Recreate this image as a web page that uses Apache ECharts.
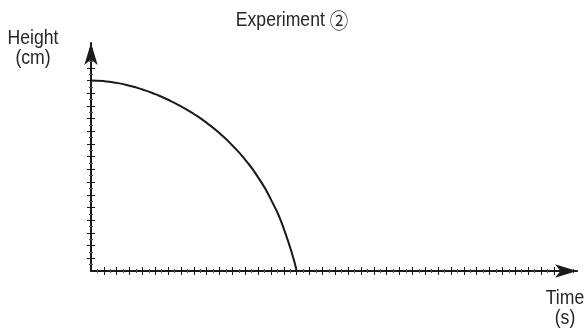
<!DOCTYPE html>
<html>
<head>
<meta charset="utf-8">
<script src="https://cdn.jsdelivr.net/npm/echarts@6/dist/echarts.min.js"></script>
<style>
  html, body { margin: 0; padding: 0; background: #ffffff; }
  #chart { width: 587px; height: 331px; }
</style>
</head>
<body>
<div id="chart"></div>
<script>
// Falling object: height (cm) against time (s)
const fallTime   = [0, 1, 2, 3, 4, 5, 6, 7, 8, 9, 10, 11, 12, 13, 14, 15, 16];
const fallHeight = [15, 14.95, 14.81, 14.59, 14.29, 13.92, 13.48, 12.96, 12.36,
                    11.66, 10.84, 9.88, 8.75, 7.37, 5.62, 3.32, 0];

// Tick marks along each axis (no labels are printed)
const timeTicks = [1, 2, 3, 4, 5, 6, 7, 8, 9, 10, 11, 12, 13, 14, 15, 16, 17, 18,
                   19, 20, 21, 22, 23, 24, 25, 26, 27, 28, 29, 30, 31, 32, 33, 34, 35, 36];
const heightTicks = [1, 2, 3, 4, 5, 6, 7, 8, 9, 10, 11, 12, 13, 14, 15, 16];

const titleWord = 'Experiment';
const titleMark = '②';
const yName = 'Height\n(cm)';
const xName = 'Time\n(s)';

const INK = '#1a1a1a';
const TEXT = '#262626';
const FONT = '"Liberation Sans", Arial, "DejaVu Sans", sans-serif';
const MARK_FONT = '"Noto Sans CJK JP", "Noto Sans CJK SC", "DejaVu Sans", sans-serif';

function tickAxis(ticks, inside, withLine) {
  return {
    type: 'value',
    min: 0,
    interval: 1,
    axisLine: {
      show: withLine,
      onZero: false,
      symbol: ['none', 'arrow'],
      symbolSize: [10, 22],
      lineStyle: { color: INK, width: 2 }
    },
    axisTick: {
      show: true,
      customValues: ticks,
      inside: inside,
      length: 4,
      lineStyle: { color: INK, width: 1 }
    },
    minorTick: {
      show: true,
      splitNumber: 2,
      length: 2,
      lineStyle: { color: '#555', width: 1 }
    },
    axisLabel: { show: false },
    splitLine: { show: false },
    minorSplitLine: { show: false }
  };
}

const xOuter = Object.assign(tickAxis(timeTicks, false, true), { position: 'bottom', max: 37.8 });
const xInner = Object.assign(tickAxis(timeTicks, true, false), { position: 'bottom', max: 37.8 });
const yOuter = Object.assign(tickAxis(heightTicks, false, true), { position: 'left', max: 17.95 });
const yInner = Object.assign(tickAxis(heightTicks, true, false), { position: 'left', max: 17.95 });

function label(text, x, y, extra) {
  return {
    type: 'text',
    x: x,
    y: y,
    scaleX: 0.88,
    style: Object.assign({
      text: text,
      align: 'center',
      verticalAlign: 'top',
      font: '20px ' + FONT,
      lineHeight: 20,
      fill: TEXT
    }, extra || {})
  };
}

const chart = echarts.init(document.getElementById('chart'), null, { renderer: 'canvas' });
chart.setOption({
  animation: false,
  backgroundColor: '#ffffff',
  grid: {
    left: 91, right: 10, top: 43, bottom: 60,
    containLabel: false,
    outerBoundsMode: 'none'
  },
  xAxis: [xOuter, xInner],
  yAxis: [yOuter, yInner],
  graphic: [
    label('{w|' + titleWord + '} {m|' + titleMark + '}', 292, 8, {
      rich: {
        w: { font: '20px ' + FONT, fill: TEXT, lineHeight: 24 },
        m: { font: '21px ' + MARK_FONT, fill: TEXT, lineHeight: 24 }
      }
    }),
    label(yName, 33, 28),
    label(xName, 565, 288)
  ],
  series: [{
    type: 'line',
    xAxisIndex: 0,
    yAxisIndex: 0,
    data: fallTime.map((t, i) => [t, fallHeight[i]]),
    smooth: 0.6,
    showSymbol: false,
    lineStyle: { color: INK, width: 2 }
  }]
});
</script>
</body>
</html>
